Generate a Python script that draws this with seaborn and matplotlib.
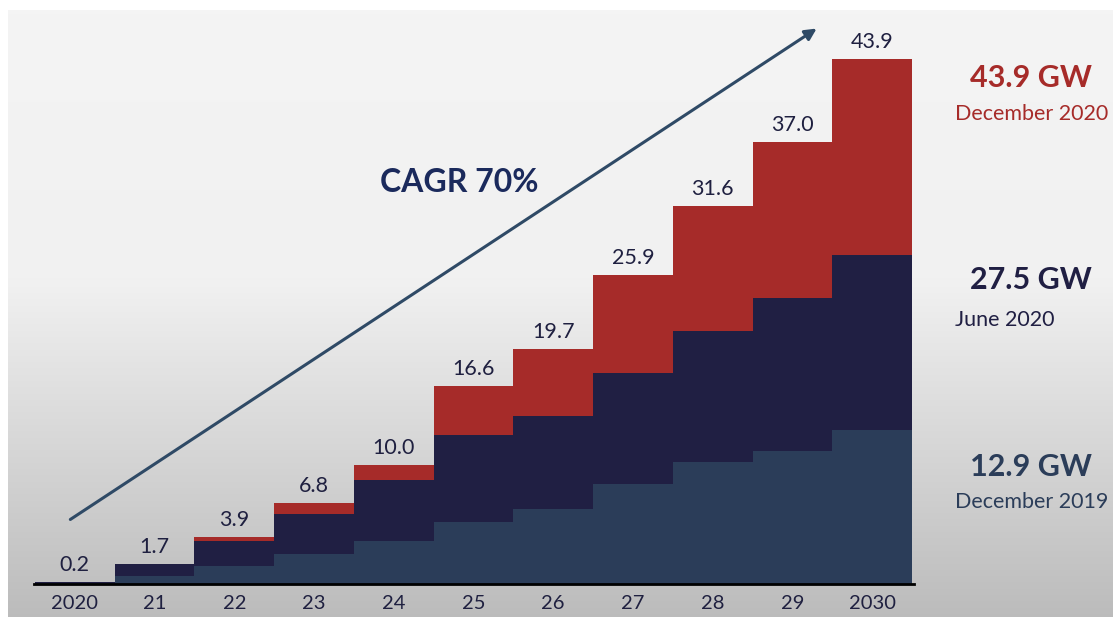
import numpy as np
import pandas as pd
import matplotlib
matplotlib.use("Agg")
import matplotlib.pyplot as plt
import seaborn as sns

# Capacity by year (GW), stacked in three layers
years = ["2020", "21", "22", "23", "24", "25", "26", "27", "28", "29", "2030"]
totals = [0.2, 1.7, 3.9, 6.8, 10.0, 16.6, 19.7, 25.9, 31.6, 37.0, 43.9]
dec2019 = [0.1, 0.7, 1.5, 2.5, 3.6, 5.2, 6.3, 8.4, 10.2, 11.1, 12.9]
jun2020 = [0.1, 1.0, 2.1, 3.4, 5.1, 7.3, 7.8, 9.3, 11.0, 12.8, 14.6]

C_STEEL = "#2b3d59"
C_NAVY = "#201f43"
C_RED = "#a62b29"
C_TEXT = "#1f2040"

W, H = 1113, 617
sns.set_theme(style="white")
plt.rcParams["font.family"] = ["Lato", "DejaVu Sans"]

fig = plt.figure(figsize=(W / 100, H / 100), dpi=100)
fig.patch.set_facecolor("white")


def fx(x):
    return x / W


def fy(y):
    return 1 - y / H


# Backdrop panel with a soft vertical gradient
bg = fig.add_axes([fx(8), 0, 1 - fx(8), 1 - 10 / H], zorder=-5)
rows = np.arange(607)
shade = np.interp(rows, [0, 270, 607], [0.957, 0.945, 0.735])
grad = np.repeat(shade[:, None, None], 3, axis=2)
bg.imshow(grad, aspect="auto", extent=[0, 1, 0, 1], interpolation="bilinear")
bg.set_axis_off()

# Main chart axes
ax = fig.add_axes([fx(34), fy(584), fx(914) - fx(34), fy(20) - fy(584)])
ax.set_facecolor("none")

df = pd.DataFrame({
    "year": years,
    "total": totals,
    "lower": [a + b for a, b in zip(dec2019, jun2020)],
    "base": dec2019,
})

for col, color in [("total", C_RED), ("lower", C_NAVY), ("base", C_STEEL)]:
    sns.barplot(data=df, x="year", y=col, order=years, color=color,
                saturation=1, width=1.0, linewidth=0, errorbar=None, ax=ax)

for i, t in enumerate(totals):
    ax.annotate(f"{t:.1f}", (i, t), xytext=(0, 5), textcoords="offset points",
                ha="center", va="bottom", fontsize=15.5, color=C_TEXT)

ax.set_xlim(-0.5125, 10.525)
ax.set_ylim(0, 47.2)
ax.set_xlabel("")
ax.set_ylabel("")
ax.set_yticks([])
ax.set_xticks(range(len(years)))
ax.set_xticklabels(years, fontsize=14.5, color=C_TEXT)
ax.tick_params(axis="x", length=0, pad=8)
for s in ["top", "right", "left"]:
    ax.spines[s].set_visible(False)
ax.spines["bottom"].set_color("black")
ax.spines["bottom"].set_linewidth(2)

# Growth arrow and CAGR label
fig.add_artist(matplotlib.patches.FancyArrowPatch(
    (fx(68), fy(521)), (fx(819), fy(27)), transform=fig.transFigure,
    arrowstyle="-|>", mutation_scale=17, lw=2.2, color="#2f4a66"))
fig.text(fx(459), fy(183), "CAGR 70%", ha="center", va="center",
         fontsize=23, fontweight="bold", color="#1b2a5c")

# Right-hand layer annotations
side = [
    ("43.9 GW", "December 2020", 78, 114, C_RED, C_RED),
    ("27.5 GW", "June 2020", 280, 320, C_NAVY, C_NAVY),
    ("12.9 GW", "December 2019", 467, 502, C_STEEL, C_STEEL),
]
for big, small, yb, ys, cb, cs in side:
    fig.text(fx(1092), fy(yb), big, ha="right", va="center",
             fontsize=22, fontweight="bold", color=cb)
    fig.text(fx(955), fy(ys), small, ha="left", va="center",
             fontsize=15.5, color=cs)

fig.savefig("out.png", dpi=100)
